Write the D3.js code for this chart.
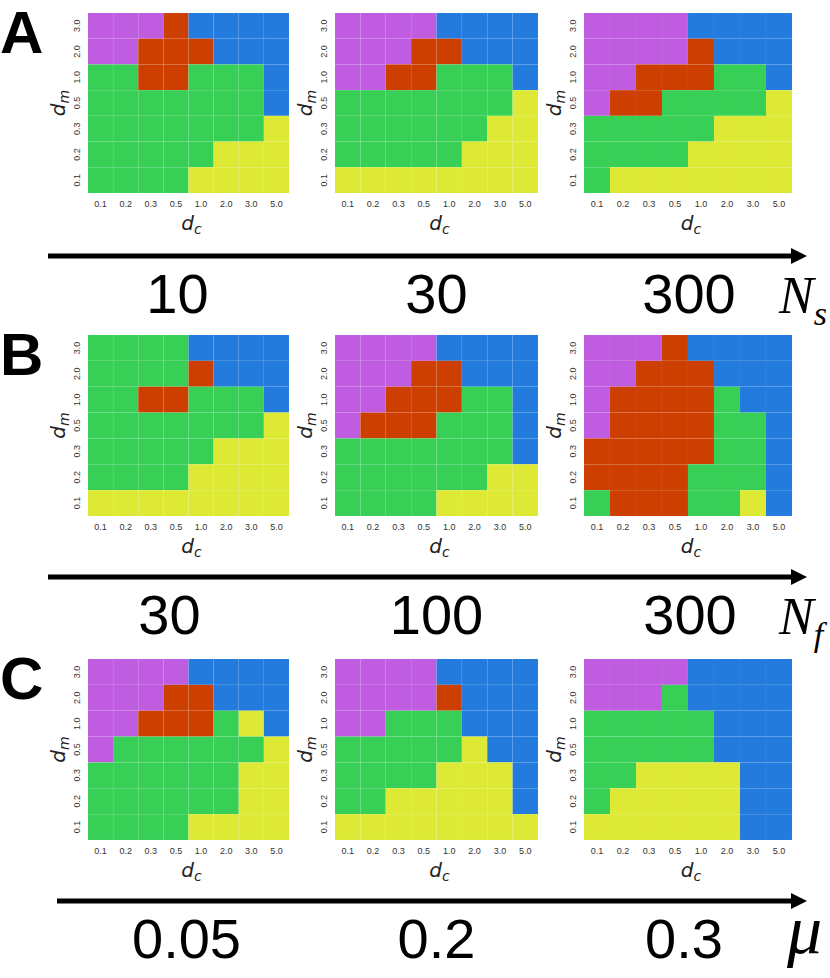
<!doctype html>
<html lang="en">
<head>
<meta charset="utf-8">
<title>Phase diagrams</title>
<script src="https://d3js.org/d3.v7.min.js"></script>
<style>
  body { margin: 0; background: #fff; }
  svg { display: block; font-family: "Liberation Sans", Arial, sans-serif; }
  .tick text { font-family: "Liberation Sans", Arial, sans-serif; font-size: 9px; fill: #333; }
</style>
</head>
<body>
<svg id="chart" width="830" height="978"></svg>
<script>
// axis categories
const dcLabels = ["0.1", "0.2", "0.3", "0.5", "1.0", "2.0", "3.0", "5.0"];
const dmLabels = ["3.0", "2.0", "1.0", "0.5", "0.3", "0.2", "0.1"]; // top to bottom

// phase of each cell, rows top (d_m = 3.0) to bottom (d_m = 0.1)
// P = purple, B = blue, R = red, G = green, Y = yellow
const gridA1 = ["PPPRBBBB", "PPRRRBBB", "GGRRGGGB", "GGGGGGGB", "GGGGGGGY", "GGGGGYYY", "GGGGYYYY"];
const gridA2 = ["PPPPBBBB", "PPPRRBBB", "PPRRGGGB", "GGGGGGGY", "GGGGGGYY", "GGGGGYYY", "YYYYYYYY"];
const gridA3 = ["PPPPBBBB", "PPPPRBBB", "PPRRRGGB", "PRRGGGGY", "GGGGGYYY", "GGGGYYYY", "GYYYYYYY"];

const gridB1 = ["GGGGBBBB", "GGGGRBBB", "GGRRGGGB", "GGGGGGGY", "GGGGGYYY", "GGGGYYYY", "YYYYYYYY"];
const gridB2 = ["PPPPBBBB", "PPPRRBBB", "PPRRRGGB", "PRRRGGGB", "GGGGGGGB", "GGGGGGYY", "GGGGYYYY"];
const gridB3 = ["PPPRBBBB", "PPRRRBBB", "PRRRRGBB", "PRRRRGGB", "RRRRRGGB", "RRRRGGGB", "GRRRGGYB"];

const gridC1 = ["PPPPBBBB", "PPPRRBBB", "PPRRRGYB", "PGGGGGGY", "GGGGGGYY", "GGGGGGYY", "GGGGYYYY"];
const gridC2 = ["PPPPBBBB", "PPPPRBBB", "PPGGGBBB", "GGGGGYBB", "GGGGYYYB", "GGYYYYYB", "YYYYYYYY"];
const gridC3 = ["PPPPBBBB", "PPPGBBBB", "GGGGGBBB", "GGGGGBBB", "GGYYYYBB", "GYYYYYBB", "YYYYYYBB"];

const rowGrids = [[gridA1, gridA2, gridA3], [gridB1, gridB2, gridB3], [gridC1, gridC2, gridC3]];
const rowLetters = ["A", "B", "C"];
const rowValues = [["10", "30", "300"], ["30", "100", "300"], ["0.05", "0.2", "0.3"]];
const rowVars = [["N", "s"], ["N", "f"], ["\u03bc", ""]];

const phaseColor = {
  P: "#bf5ce0",
  B: "#237bde",
  R: "#cc3f00",
  G: "#37cf55",
  Y: "#dde935"
};

// layout
const colX = [[88, 289], [335, 538], [584, 792]];
const rowY = [[13, 193], [335, 516], [659, 840]];
const arrowY = [256, 577, 901];
const arrowX0 = [48, 48, 57];
const valueDx = [[-11, 0, 1], [-19, 0, 2], [-2, 0, -4]];

const svg = d3.select("#chart");

function drawPanel(g, grid, x0, x1, y0, y1) {
  const x = d3.scaleBand().domain(dcLabels).range([x0, x1]);
  const y = d3.scaleBand().domain(dmLabels).range([y0, y1]);

  const cells = [];
  grid.forEach((row, i) => {
    row.split("").forEach((c, j) => {
      cells.push({ dm: dmLabels[i], dc: dcLabels[j], phase: c });
    });
  });

  g.selectAll("rect.cell")
    .data(cells)
    .enter().append("rect")
    .attr("class", "cell")
    .attr("x", d => x(d.dc))
    .attr("y", d => y(d.dm))
    .attr("width", x.bandwidth())
    .attr("height", y.bandwidth())
    .attr("fill", d => phaseColor[d.phase])
    .attr("stroke", "rgba(255,255,255,0.07)")
    .attr("stroke-width", 0.6);

  // x axis
  const ax = g.append("g")
    .attr("transform", `translate(0,${y1})`)
    .call(d3.axisBottom(x).tickSize(0).tickPadding(8));
  ax.select(".domain").remove();

  // y axis, rotated tick labels
  const ay = g.append("g")
    .attr("transform", `translate(${x0},0)`)
    .call(d3.axisLeft(y).tickSize(0));
  ay.select(".domain").remove();
  ay.selectAll(".tick text")
    .attr("x", 0)
    .attr("dy", 0)
    .attr("text-anchor", "middle")
    .attr("transform", "translate(-8,0) rotate(-90)");

  // axis titles
  const xt = g.append("text")
    .attr("x", (x0 + x1) / 2 + 3)
    .attr("y", y1 + 37)
    .attr("text-anchor", "middle")
    .style("font-family", "DejaVu Sans, sans-serif")
    .style("font-size", "20px")
    .style("font-style", "italic")
    .attr("fill", "#222");
  xt.append("tspan").text("d");
  xt.append("tspan").attr("dy", 4).style("font-size", "14px").text("c");

  const yt = g.append("text")
    .attr("transform", `translate(${x0 - 23},${(y0 + y1) / 2}) rotate(-90)`)
    .attr("text-anchor", "middle")
    .style("font-family", "DejaVu Sans, sans-serif")
    .style("font-size", "20px")
    .style("font-style", "italic")
    .attr("fill", "#222");
  yt.append("tspan").text("d");
  yt.append("tspan").attr("dy", 4).style("font-size", "14px").text("m");
}

rowGrids.forEach((grids, r) => {
  grids.forEach((grid, c) => {
    const g = svg.append("g").attr("class", "panel");
    drawPanel(g, grid, colX[c][0], colX[c][1], rowY[r][0], rowY[r][1]);
  });

  // panel letter
  svg.append("text")
    .attr("x", 0)
    .attr("y", rowY[r][0] + 40)
    .style("font-size", "60px")
    .style("font-weight", "bold")
    .attr("fill", "#000")
    .text(rowLetters[r]);

  // arrow
  const ay = arrowY[r];
  svg.append("line")
    .attr("x1", arrowX0[r]).attr("x2", 794)
    .attr("y1", ay).attr("y2", ay)
    .attr("stroke", "#000")
    .attr("stroke-width", 5);
  svg.append("path")
    .attr("d", `M791,${ay - 8}L807,${ay}L791,${ay + 8}Z`)
    .attr("fill", "#000");

  // parameter values under the arrow
  rowValues[r].forEach((v, c) => {
    svg.append("text")
      .attr("x", (colX[c][0] + colX[c][1]) / 2 + valueDx[r][c])
      .attr("y", ay + 57)
      .attr("text-anchor", "middle")
      .style("font-size", "56px")
      .attr("fill", "#000")
      .text(v);
  });

  // parameter name
  const vt = svg.append("text")
    .attr("x", 779)
    .attr("y", ay + 57)
    .style("font-family", "Liberation Serif, Times New Roman, serif")
    .style("font-style", "italic")
    .attr("fill", "#000");
  if (rowVars[r][1]) {
    vt.append("tspan").style("font-size", "52px").text(rowVars[r][0]);
    vt.append("tspan").attr("dx", 0).attr("dy", 12).style("font-size", "34px").text(rowVars[r][1]);
  } else {
    vt.attr("x", 787).attr("y", ay + 52).style("font-size", "70px").text(rowVars[r][0]);
  }
});
</script>
</body>
</html>
